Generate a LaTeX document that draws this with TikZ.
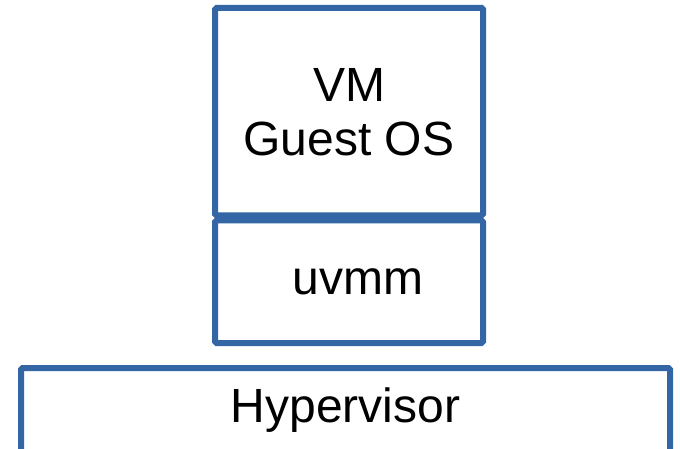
\documentclass[tikz,border=0pt]{standalone}
\usepackage{fontspec}
\setmainfont{Liberation Sans}
\definecolor{boxblue}{HTML}{3465A4}
\tikzset{
  stackbox/.style={draw=boxblue, line width=6pt, rounded corners=1.5pt, fill=white,
    inner sep=0pt, align=center, font=\fontsize{48}{54}\selectfont}
}

\begin{document}
\begin{tikzpicture}[x=1pt, y=-1pt]
  \useasboundingbox (0,0) rectangle (680,449);
  \node[stackbox, minimum width=268pt, minimum height=207.5pt] (guest) at (349,111.75) {VM\\Guest OS};
  \node[stackbox, minimum width=268pt, minimum height=122.5pt] (uvmm) at (349,281.75) {\hspace{18pt}uvmm};
  \node[stackbox, minimum width=649pt, minimum height=84pt] (hyp) at (345.5,410) {Hypervisor};
\end{tikzpicture}
\end{document}
